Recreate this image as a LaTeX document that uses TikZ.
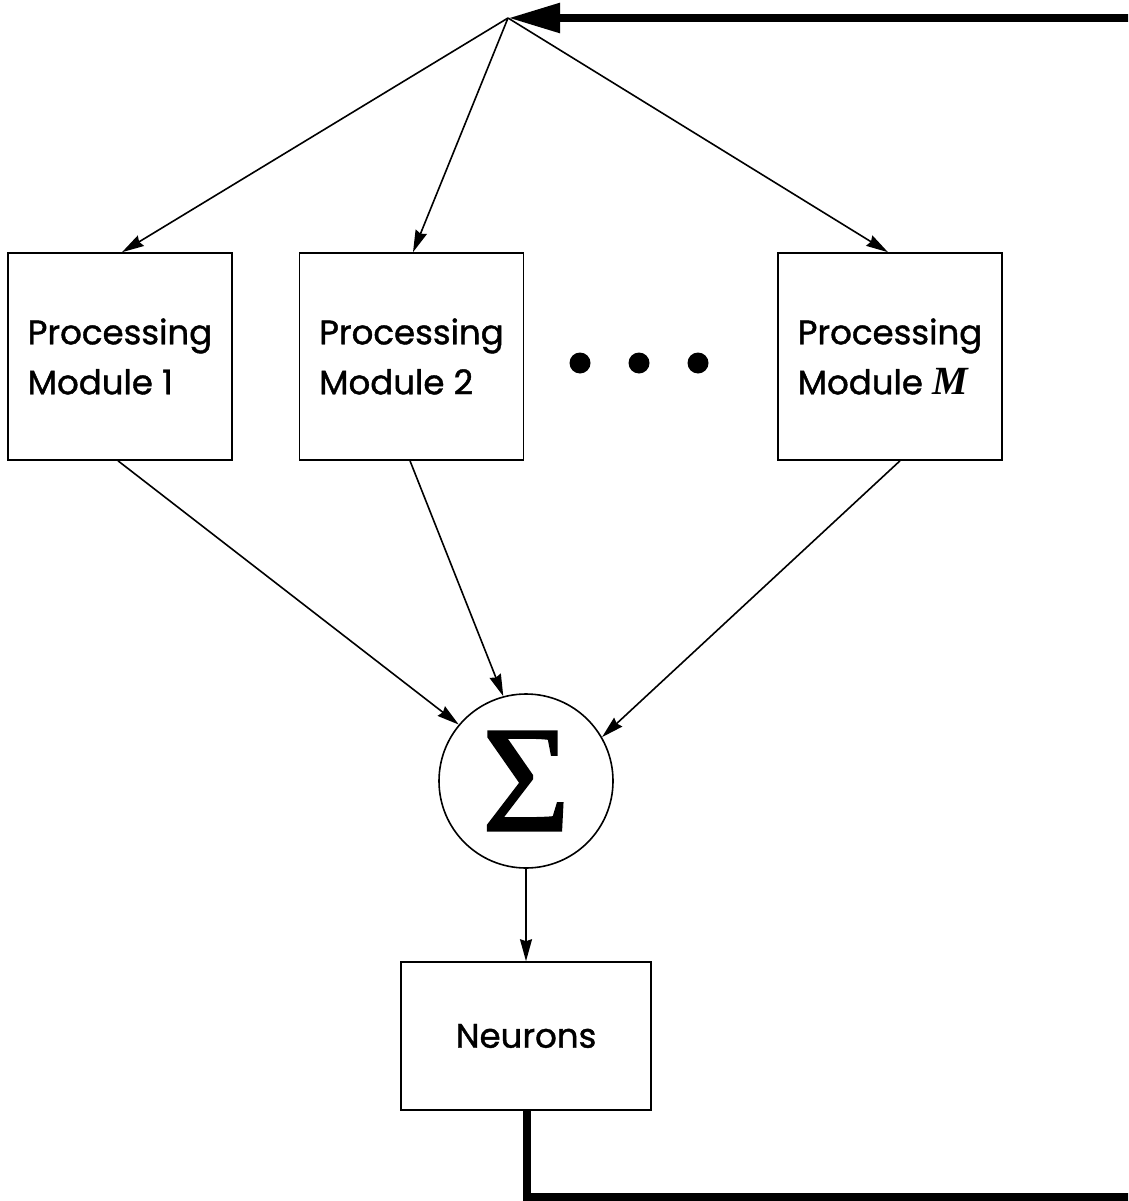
\documentclass[tikz,border=0pt]{standalone}
\usepackage{fontspec}
\setmainfont{Poppins}[FakeBold=1.2]
\newfontfamily\serifface{Liberation Serif}
\newfontfamily\sigmaface{Liberation Serif}[FakeBold=1.2]
\usetikzlibrary{arrows.meta}
\begin{document}
\begin{tikzpicture}[x=1pt,y=-1pt,
  thin/.style={line width=1.6pt},
  box/.style={draw,thin,minimum width=224pt,minimum height=207pt,inner sep=0pt,
    align=left,font=\fontsize{34}{50}\selectfont},
  link/.style={thin,-{Stealth[length=22pt,width=12pt,inset=2pt]}},
  feedback/.style={line width=8.5pt,-{Triangle[length=52pt,width=28pt]}},
  dot/.style={circle,fill,inner sep=0pt,minimum size=21pt}]
\useasboundingbox (0,0) rectangle (1128,1201);
\clip (0,0) rectangle (1128,1201);

% distribution point
\coordinate (apex) at (508,18);

% processing modules
\node[box] (pm1) at (120,356.5) {Processing\\Module 1};
\node[box] (pm2) at (411.5,356.5) {Processing\\Module 2};
\node[box] (pmM) at (890,356.5) {Processing\\Module {\serifface\bfseries\itshape\fontsize{40}{50}\selectfont M}};

% ellipsis between modules
\node[dot] (d1) at (580,363) {};
\node[dot] (d2) at (639,363) {};
\node[dot] (d3) at (698,363) {};

% summation
\node[draw,thin,circle,minimum size=174pt,inner sep=0pt,
  font=\sigmaface\fontsize{152}{152}\selectfont] (sig) at (526,781) {Σ};

% neurons
\node[draw,thin,minimum width=250pt,minimum height=148pt,inner sep=0pt,
  font=\fontsize{34}{50}\selectfont] (neu) at (526,1036) {Neurons};

% fan-out
\draw[link] (apex) -- ([xshift=2pt]pm1.north);
\draw[link] (apex) -- ([xshift=1.5pt]pm2.north);
\draw[link] (apex) -- ([xshift=-2pt]pmM.north);

% fan-in
\draw[link] ([xshift=-2pt]pm1.south) -- (sig.140.7);
\draw[link] ([xshift=-1.5pt]pm2.south) -- (sig.105);
\draw[link] ([xshift=10pt]pmM.south) -- (sig.30);
\draw[link] (sig.south) -- (neu.north);

% feedback loop
\draw[feedback] ([xshift=1pt]neu.south) |- (1160,1197) |- (apex);
\end{tikzpicture}
\end{document}
